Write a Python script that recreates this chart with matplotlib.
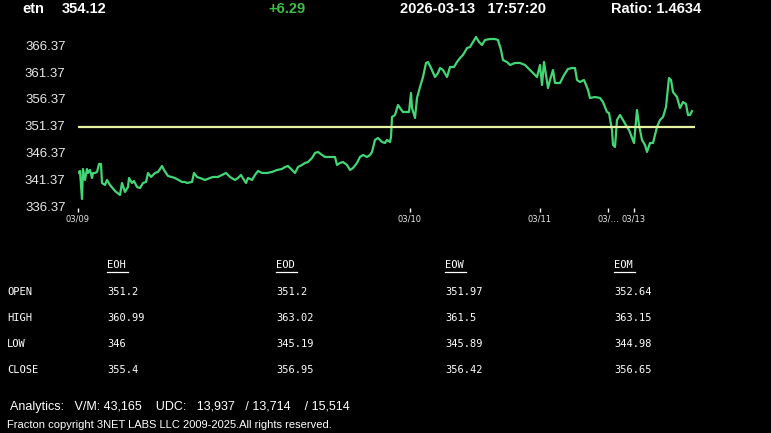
import numpy as np
import matplotlib
matplotlib.use('Agg')
import matplotlib.pyplot as plt
from matplotlib.lines import Line2D

# ---------------- data ----------------
bar_idx = [0, 2, 4, 5, 7, 9, 10, 12, 14, 15, 17, 19, 21, 23, 24, 27, 29, 32, 37, 42,
           44, 47, 50, 51, 54, 56, 59, 62, 65, 68, 70, 73, 77, 80, 84, 86, 90, 97, 104, 107,
           109, 114, 116, 119, 122, 127, 132, 135, 140, 144, 148, 152, 157, 160, 163, 166, 168, 170, 174, 177,
           180, 184, 189, 194, 199, 204, 207, 210, 212, 214, 217, 220, 224, 227, 230, 234, 237, 240, 244, 247,
           252, 257, 259, 262, 265, 269, 272, 275, 279, 282, 285, 289, 292, 294, 297, 300, 304, 307, 309, 312,
           313, 314, 317, 320, 322, 325, 329, 331, 333, 334, 337, 339, 342, 345, 348, 350, 353, 357, 360, 362,
           365, 369, 372, 376, 379, 382, 385, 389, 392, 395, 398, 401, 404, 407, 412, 417, 420, 423, 425, 429,
           432, 437, 442, 447, 449, 452, 455, 459, 462, 464, 466, 468, 470, 472, 475, 477, 482, 486, 490, 494,
           497, 499, 502, 506, 510, 512, 517, 522, 525, 529, 531, 534, 535, 537, 539, 542, 545, 549, 551, 554,
           556, 559, 561, 564, 567, 569, 572, 575, 579, 582, 585, 588, 591, 593, 595, 599, 602, 605, 608, 610,
           612, 614]
price = [342.67, 343.04, 337.85, 343.41, 341.37, 343.41, 342.67, 343.22, 341.74, 342.67,
         342.67, 342.85, 344.33, 344.33, 340.81, 340.44, 341.37, 340.44, 339.33, 338.59,
         340.81, 339.15, 340.07, 341.74, 340.81, 341.18, 340.07, 339.89, 340.81, 341.00,
         342.67, 341.93, 342.67, 342.85, 343.96, 343.22, 342.11, 341.74, 341.00, 341.00,
         340.81, 341.00, 342.67, 341.93, 341.74, 341.37, 341.74, 341.93, 341.93, 342.30,
         342.67, 341.93, 341.37, 341.74, 342.30, 341.37, 340.81, 341.74, 341.37, 342.30,
         343.04, 342.67, 342.67, 342.85, 343.22, 343.41, 343.78, 343.96, 343.59, 343.22,
         342.67, 343.78, 344.15, 344.52, 344.70, 345.44, 346.37, 346.56, 346.00, 345.63,
         345.63, 345.63, 344.15, 344.52, 344.70, 344.15, 343.22, 343.59, 344.52, 345.63,
         346.00, 345.63, 346.00, 346.56, 348.78, 349.15, 348.41, 348.22, 348.78, 348.41,
         349.33, 353.04, 353.41, 355.26, 354.70, 353.96, 353.96, 353.96, 357.48, 354.70,
         352.85, 356.56, 358.59, 360.44, 363.04, 363.22, 362.11, 360.44, 361.18, 362.11,
         361.74, 360.44, 362.30, 362.30, 363.22, 363.96, 364.52, 365.81, 366.00, 366.93,
         367.85, 366.93, 366.37, 367.30, 367.48, 367.48, 367.30, 365.44, 363.59, 363.22,
         362.67, 363.04, 363.04, 362.67, 362.30, 361.74, 361.18, 360.44, 362.67, 358.96,
         363.22, 360.81, 358.41, 359.89, 361.74, 359.33, 359.33, 360.81, 361.93, 362.11,
         362.11, 359.89, 359.52, 359.89, 358.04, 356.56, 356.74, 356.56, 355.81, 353.96,
         353.78, 350.63, 347.85, 347.48, 352.48, 353.41, 352.48, 351.18, 350.63, 349.15,
         348.22, 354.33, 351.56, 348.78, 347.85, 346.56, 348.22, 348.22, 351.18, 352.48,
         353.04, 354.89, 360.26, 359.89, 357.67, 356.74, 354.70, 355.81, 355.44, 353.41,
         353.41, 354.12]
ref_level = 351.2

day_pos = [0, 332, 462, 530, 556]
day_labels = ['03/09', '03/10', '03/11', '03/\u2026', '03/13']
y_ticks = [336.37, 341.37, 346.37, 351.37, 356.37, 361.37, 366.37]

symbol = 'etn'
last = 354.12
change = '+6.29'
stamp = '2026-03-13   17:57:20'
ratio = 'Ratio: 1.4634'

col_names = ['EOH', 'EOD', 'EOW', 'EOM']
row_names = ['OPEN', 'HIGH', 'LOW', 'CLOSE']
open_v = [351.2, 351.2, 351.97, 352.64]
high_v = [360.99, 363.02, 361.5, 363.15]
low_v = [346, 345.19, 345.89, 344.98]
close_v = [355.4, 356.95, 356.42, 356.65]

analytics = 'Analytics:   V/M: 43,165    UDC:   13,937   / 13,714    / 15,514'
copyright_txt = 'Fracton copyright 3NET LABS LLC 2009-2025.All rights reserved.'

# ---------------- figure ----------------
W, H = 771, 433
fig = plt.figure(figsize=(W / 100, H / 100), dpi=100, facecolor='black')

def fx(px):
    return px / W

def fy(py):
    return 1 - py / H

ax = fig.add_axes([fx(78), fy(208), fx(617), 178 / H])
ax.set_facecolor('black')
ax.plot(bar_idx, price, color='#42d676', lw=1.6, solid_joinstyle='round')
ax.axhline(ref_level, color='#e6f2a2', lw=1.6)
ax.set_xlim(0, 617)
ax.set_ylim(336.18, 369.15)
for s in ax.spines.values():
    s.set_visible(False)
ax.set_yticks(y_ticks)
ax.set_yticklabels(['%.2f' % v for v in y_ticks], family='Liberation Sans', fontsize=9.5, color='#e8e8e8')
ax.tick_params(axis='y', length=0, pad=9)
ax.set_xticks(day_pos)
ax.set_xticklabels(day_labels, family='DejaVu Sans', fontsize=6, color='#e8e8e8')
ax.tick_params(axis='x', length=3, width=1, color='white', pad=2, direction='out')

# header
hd = dict(family='Liberation Sans', fontsize=10.5, fontweight='bold', va='center', ha='left')
fig.text(fx(22), fy(9), symbol, color='white', **hd)
fig.text(fx(62), fy(9), '%.2f' % last, color='white', **hd)
fig.text(fx(268), fy(9), change, color='#3cc040', **hd)
fig.text(fx(400), fy(9), stamp, color='white', **hd)
fig.text(fx(611), fy(9), ratio, color='white', **hd)

# table
mono = dict(family='DejaVu Sans Mono', fontsize=7.5, color='white', va='center', ha='left')
col_x = [107, 276, 445, 614]
row_y = [292, 318, 344, 370]
for cx, name in zip(col_x, col_names):
    fig.text(fx(cx), fy(265), name, **mono)
    fig.add_artist(Line2D([fx(cx), fx(cx + 21)], [fy(272), fy(272)], color='white', lw=0.9,
                          transform=fig.transFigure))
table_vals = [open_v, high_v, low_v, close_v]
for ry, rname, vals in zip(row_y, row_names, table_vals):
    fig.text(fx(7), fy(ry), rname, **mono)
    for cx, v in zip(col_x, vals):
        fig.text(fx(cx), fy(ry), '%g' % v, **mono)

# footer
fig.text(fx(10), fy(407), analytics, family='Liberation Sans', fontsize=9, color='white', va='center', ha='left')
fig.text(fx(7), fy(425), copyright_txt, family='Liberation Sans', fontsize=8, color='white', va='center', ha='left')

fig.savefig('out.png', dpi=100, facecolor='black')
